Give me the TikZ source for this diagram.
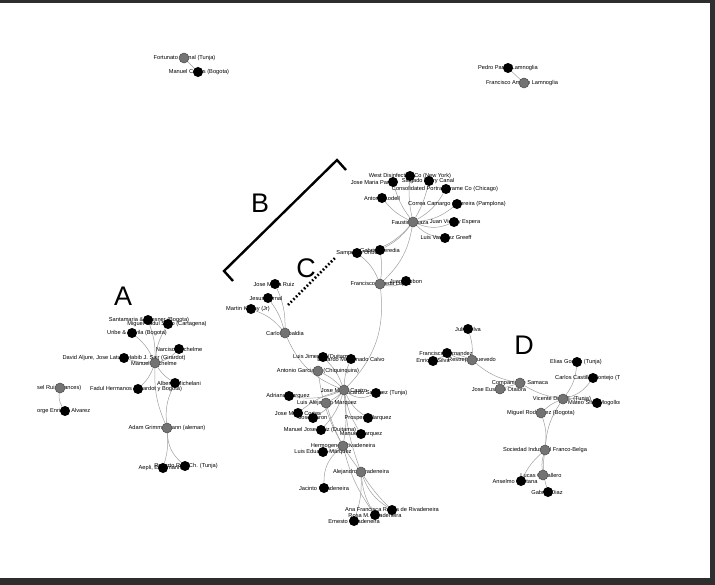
\documentclass[tikz,border=0pt]{standalone}
\usepackage{fontspec}
\setmainfont{Liberation Sans}
\pgfdeclarelayer{edges}
\pgfdeclarelayer{labels}
\pgfsetlayers{edges,labels,main}
\begin{document}
\begin{tikzpicture}[x=1bp,y=-1bp,
  dotb/.style={circle,fill=black,inner sep=0,minimum size=10bp},
  dotg/.style={circle,fill=black!55,draw=black!70,line width=0.5bp,inner sep=0,minimum size=10bp},
  lab/.style={font=\fontsize{5.7}{6}\selectfont,inner sep=0},
  edge/.style={draw=gray!75,line width=0.5bp},
  big/.style={font=\fontsize{27}{27}\selectfont,inner sep=0},
  frame/.style={fill=black!82,draw=none}]
\useasboundingbox (0,0) rectangle (715,585);
\fill[frame] (0,0) rectangle (715,3);
\fill[frame] (710,0) rectangle (715,585);
\fill[frame] (0,578) rectangle (715,585);

% ---------- nodes ----------
% top left
\node[dotg] (fb) at (184,58) {};
\node[dotb] (mc) at (198,72) {};
% top right
\node[dotb] (pp) at (508,68) {};
\node[dotg] (fa) at (524,83) {};
% B
\node[dotg] (bc) at (413,222) {};
\node[dotb] (wd) at (410,176) {};
\node[dotb] (jp) at (393,182) {};
\node[dotb] (ec) at (429,181) {};
\node[dotb] (cp) at (446,189) {};
\node[dotb] (al) at (382,198) {};
\node[dotb] (cc) at (457,204) {};
\node[dotb] (jv) at (454,222) {};
\node[dotb] (lv) at (445,238) {};
% C top
\node[dotb] (sp) at (357,253) {};
\node[dotb] (gh) at (380,250) {};
\node[dotg] (fl) at (380,284) {};
\node[dotb] (gib) at (406,281) {};
\node[dotb] (jr) at (275,284) {};
\node[dotb] (jb) at (268,298) {};
\node[dotb] (mk) at (251,309) {};
\node[dotg] (co) at (285,333) {};
% C lower
\node[dotb] (lj) at (323,357) {};
\node[dotb] (em) at (351,359) {};
\node[dotg] (ag) at (318,371) {};
\node[dotg] (jm) at (344,390) {};
\node[dotb] (rs) at (376,393) {};
\node[dotb] (am) at (289,396) {};
\node[dotg] (la) at (326,403) {};
\node[dotb] (jc) at (298,413) {};
\node[dotb] (jbr) at (313,418) {};
\node[dotb] (pm) at (368,418) {};
\node[dotb] (mo) at (321,430) {};
\node[dotb] (mm) at (361,434) {};
\node[dotg] (hr) at (343,446) {};
\node[dotb] (le) at (323,452) {};
\node[dotg] (ar) at (361,472) {};
\node[dotb] (jrv) at (324,488) {};
\node[dotb] (af) at (392,510) {};
\node[dotb] (rm) at (375,515) {};
\node[dotb] (er) at (354,521) {};
% A
\node[dotb] (sw) at (148,320) {};
\node[dotb] (mf) at (168,324) {};
\node[dotb] (ud) at (132,333) {};
\node[dotb] (nr) at (179,349) {};
\node[dotb] (da) at (124,358) {};
\node[dotg] (mn) at (155,363) {};
\node[dotb] (ab) at (175,383) {};
\node[dotb] (fh) at (138,389) {};
\node[dotg] (sr) at (60,388) {};
\node[dotb] (ja) at (65,411) {};
\node[dotg] (adg) at (167,428) {};
\node[dotb] (ae) at (163,468) {};
\node[dotb] (rb) at (185,466) {};
% D
\node[dotb] (js) at (468,329) {};
\node[dotb] (ff) at (447,353) {};
\node[dotb] (es) at (433,361) {};
\node[dotg] (rq) at (472,360) {};
\node[dotg] (cs) at (520,383) {};
\node[dotg] (jeo) at (500,389) {};
\node[dotb] (eg) at (577,362) {};
\node[dotb] (ccm) at (593,378) {};
\node[dotg] (vd) at (563,399) {};
\node[dotb] (ms) at (597,403) {};
\node[dotg] (mr) at (541,413) {};
\node[dotg] (si) at (545,450) {};
\node[dotg] (lcb) at (543,475) {};
\node[dotb] (asn) at (521,481) {};
\node[dotb] (gd) at (548,492) {};

% ---------- edges ----------
\begin{pgfonlayer}{edges}
\draw[edge] (fb) -- (mc);
\draw[edge] (pp) -- (fa);
\foreach \a/\b/\c in {
  bc/wd/8, bc/jp/10, bc/ec/-8, bc/cp/-14, bc/al/12, bc/cc/-16, bc/jv/-22, bc/lv/-18,
  bc/sp/20, bc/gh/12, bc/fl/18, fl/sp/-14, fl/gh/-8, fl/gib/-20, fl/jm/25,
  co/jr/-12, co/jb/-10, co/mk/-14, co/jm/-22,
  jm/lj/-12, jm/em/10, jm/ag/-10, jm/rs/-30, jm/am/15, jm/la/8, jm/jc/-12,
  jm/jbr/10, jm/pm/-15, jm/mo/12, jm/mm/-10, jm/hr/8, jm/ar/-8, la/ar/-10,
  ag/hr/-10, hr/le/10, hr/jrv/-25, ar/af/-18, ar/rm/-12, ar/er/10, ar/af/-6, hr/rm/-10,
  mn/sw/-10, mn/mf/12, mn/ud/-12, mn/nr/-14, mn/da/8, mn/ab/-12, mn/fh/12, mn/adg/-12,
  ab/adg/-15, sr/ja/-20, adg/ae/10, adg/rb/-22,
  js/rq/10, ff/rq/-10, es/rq/25, rq/cs/-14, jeo/cs/0, cs/vd/-10,
  vd/eg/-15, vd/ccm/-18, vd/ms/10, vd/mr/-10, vd/si/-14, mr/si/12, si/lcb/-12,
  si/asn/-10, si/gd/-12}
  \draw[edge] (\a) to[bend left=\c] (\b);
\end{pgfonlayer}

% ---------- labels ----------
\begin{pgfonlayer}{labels}
\begin{scope}
\clip (37,0) rectangle (619,585);
\node[lab] at (184.5,58) {Fortunato Bernal (Tunja)};
\node[lab] at (199,72) {Manuel Cortes (Bogota)};
\node[lab] at (508,68) {Pedro Pardo Lamnoglia};
\node[lab] at (522,83) {Francisco Amado Lamnoglia};
\node[lab] at (410,222) {Faustino Isaza};
\node[lab] at (410,176) {West Disinfecting Co (New York)};
\node[lab] at (373,182) {Jose Maria Pardo};
\node[lab] at (428,181) {Salgado Perry Canal};
\node[lab] at (445,189) {Consolidated Portrait Frame Co (Chicago)};
\node[lab] at (382,198) {Antonio Lodell};
\node[lab] at (457,204) {Correa Camargo y Pereira (Pamplona)};
\node[lab] at (455,222) {Juan Vidal y Espera};
\node[lab] at (446,238) {Luis Vasquez Greeff};
\node[lab] at (357,253) {Sampedro Uribe};
\node[lab] at (380,250) {Gabriel Heredia};
\node[lab] at (381,284) {Francisco Pineda Lopez};
\node[lab] at (406,281) {Juan Gibbon};
\node[lab] at (274,284) {Jose Maria Ruiz};
\node[lab] at (266,298) {Jesus Bernal};
\node[lab] at (248,309) {Martin Kenny (Jr)};
\node[lab] at (285,333) {Carlos Obaldia};
\node[lab] at (323,357) {Luis Jimenez (Duitama)};
\node[lab] at (351,359) {Eduardo Maldonado Calvo};
\node[lab] at (318,371) {Antonio Garcia R. (Chiquinquira)};
\node[lab] at (344,390) {Jose Maria Castro};
\node[lab] at (376,393) {Ricardo Sanchez (Tunja)};
\node[lab] at (288,396) {Adriano Marquez};
\node[lab] at (327,403) {Luis Alejandro Marquez};
\node[lab] at (298,413) {Jose Maria Cortes};
\node[lab] at (313,418) {Jose Baron};
\node[lab] at (368,418) {Prospero Marquez};
\node[lab] at (320,430) {Manuel Jose Ortiz (Duitama)};
\node[lab] at (361,434) {Manuel Marquez};
\node[lab] at (343,446) {Hermogenes Rivadeneira};
\node[lab] at (323,452) {Luis Eduardo Marquez};
\node[lab] at (361,472) {Alejandro Rivadeneira};
\node[lab] at (324,488) {Jacinto Rivadeneira};
\node[lab] at (392,510) {Ana Francisca Reyes de Rivadeneira};
\node[lab] at (375,515) {Rosa M. Rivadeneira};
\node[lab] at (354,521) {Ernesto Rivadeneira};
\node[lab] at (149,320) {Santamaria \& Wiesner (Bogota)};
\node[lab] at (167,324) {Miguel Fadul Sotto (Cartagena)};
\node[lab] at (137,333) {Uribe \& Davila (Bogota)};
\node[lab] at (179,349) {Narciso Rechelme};
\node[lab] at (124,358) {David Aljure, Jose Latuff, Habib J. Sair (Girardot)};
\node[lab] at (154,363) {Manuel Nechelme};
\node[lab] at (179,383) {Alberto Michelani};
\node[lab] at (136,389) {Fadul Hermanos (Girardot y Bogota)};
\node[lab,anchor=west] at (37,388) {sel Ruiz (frances)};
\node[lab,anchor=west] at (37,411) {orge Enrique Alvarez};
\node[lab] at (167,428) {Adam Grimmermann (aleman)};
\node[lab] at (160,468) {Aepli, Eschmann};
\node[lab] at (186,466) {Roberto Ruiz Ch. (Tunja)};
\node[lab] at (468,329) {Julio Silva};
\node[lab] at (446,353) {Francisco Fernandez};
\node[lab] at (433,361) {Enrique Silva};
\node[lab] at (472,360) {Restrepo Quevedo};
\node[lab] at (520,383) {Compania de Samaca};
\node[lab] at (499,389) {Jose Eusebio Otalora};
\node[lab] at (576,362) {Elias Gomez (Tunja)};
\node[lab,anchor=west] at (555,378) {Carlos Castillo Montejo (Tunja)};
\node[lab] at (562,399) {Vicente Diaz E. (Tunja)};
\node[lab,anchor=west] at (568,403) {Mateo Silva Mogollon};
\node[lab] at (541,413) {Miguel Rodriguez (Bogota)};
\node[lab] at (545,450) {Sociedad Industrial Franco-Belga};
\node[lab] at (541,475) {Lucas Caballero};
\node[lab] at (515,481) {Anselmo Santana};
\node[lab] at (547,492) {Gabriel Diaz};
\end{scope}
\end{pgfonlayer}

% ---------- annotations ----------
\node[big] (lA) at (123,296) {A};
\node[big] (lB) at (260,203) {B};
\node[big] (lC) at (306,268) {C};
\node[big] (lD) at (524,345) {D};
\coordinate (b1) at (233,281);
\coordinate (b2) at (224,271);
\coordinate (b3) at (337,160);
\coordinate (b4) at (346,170);
\draw[line width=2.4bp] (b1) -- (b2) -- (b3) -- (b4);
\coordinate (c1) at (288,305);
\coordinate (c2) at (335,258);
\draw[line width=2.6bp,dash pattern=on 1.6bp off 2.2bp] (c1) -- (c2);
\end{tikzpicture}
\end{document}
